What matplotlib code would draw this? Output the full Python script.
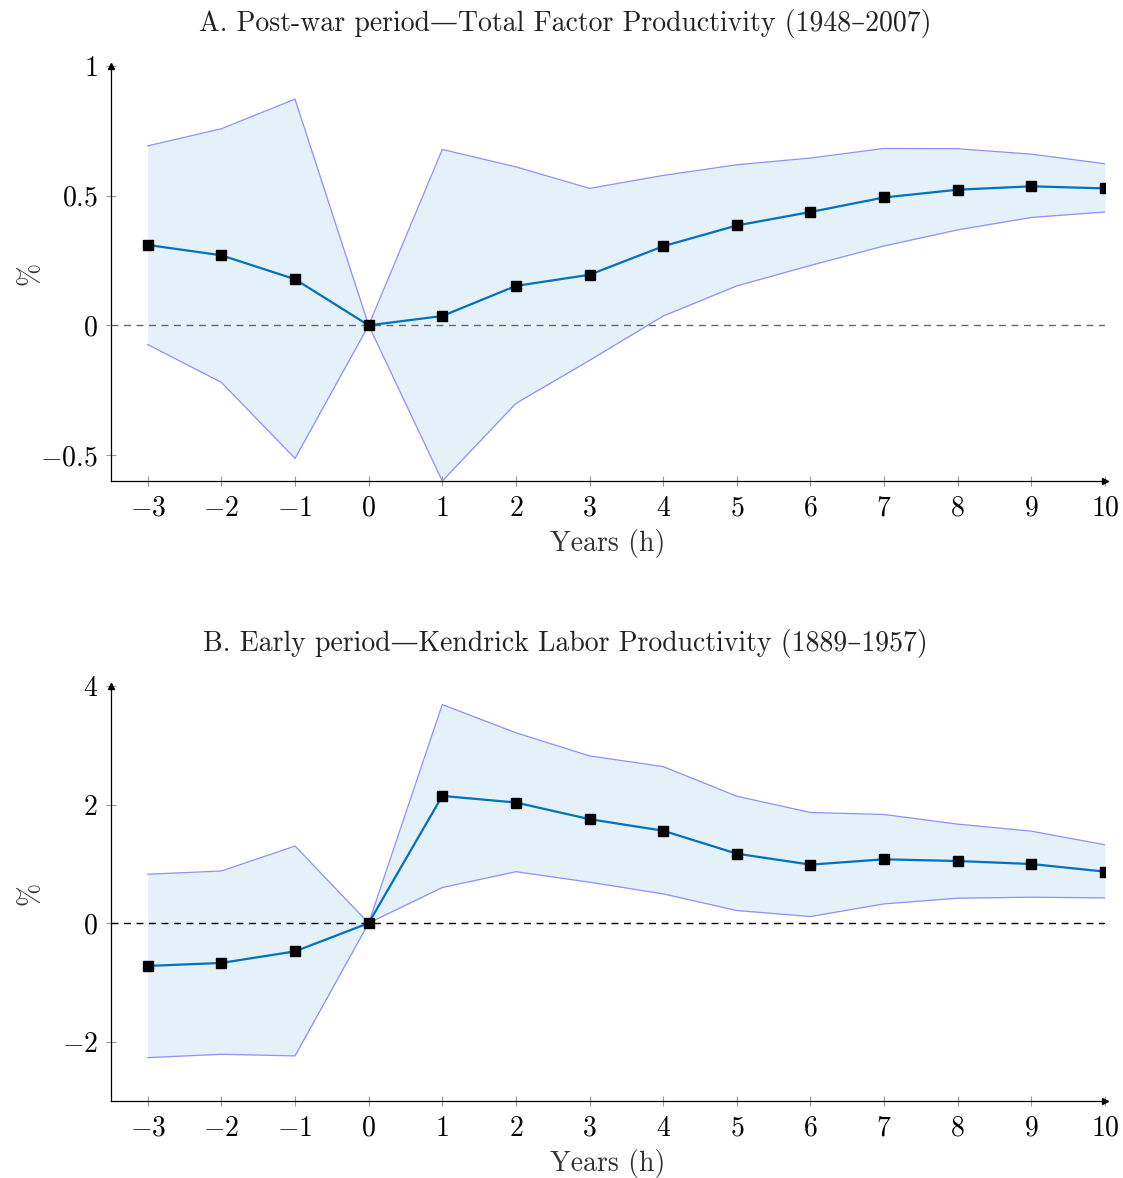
import matplotlib
matplotlib.use("Agg")
import matplotlib.pyplot as plt

plt.rcParams['font.family'] = ['cmr10', 'DejaVu Serif']
plt.rcParams['mathtext.fontset'] = 'cm'
plt.rcParams['axes.unicode_minus'] = False

# horizons
years = [-3, -2, -1, 0, 1, 2, 3, 4, 5, 6, 7, 8, 9, 10]

# Panel A: post-war TFP
tfp_mean = [0.31, 0.27, 0.178, 0.0, 0.036, 0.152, 0.195, 0.305, 0.385, 0.437, 0.493, 0.523, 0.536, 0.528]
tfp_upper = [0.692, 0.758, 0.872, 0.0, 0.678, 0.611, 0.528, 0.578, 0.619, 0.645, 0.682, 0.681, 0.66, 0.623]
tfp_lower = [-0.074, -0.22, -0.513, 0.0, -0.60, -0.301, -0.135, 0.036, 0.152, 0.231, 0.306, 0.368, 0.416, 0.437]

# Panel B: early period Kendrick labor productivity
lp_mean = [-0.723, -0.672, -0.477, 0.0, 2.145, 2.034, 1.753, 1.558, 1.171, 0.986, 1.076, 1.047, 0.997, 0.868]
lp_upper = [0.824, 0.879, 1.30, 0.0, 3.686, 3.21, 2.82, 2.64, 2.14, 1.866, 1.832, 1.669, 1.551, 1.321]
lp_lower = [-2.269, -2.213, -2.24, 0.0, 0.60, 0.867, 0.69, 0.493, 0.212, 0.111, 0.324, 0.42, 0.437, 0.425]

tfp_yticks = [-0.5, 0, 0.5, 1]
lp_yticks = [-2, 0, 2, 4]

titles = ["A. Post-war period\u2014Total Factor Productivity (1948\u20132007)",
          "B. Early period\u2014Kendrick Labor Productivity (1889\u20131957)"]

FS = 20


def tick_label(v):
    return r"$" + f"{v:g}" + r"$"


def draw_panel(ax, mean, upper, lower, yticks, ylim, zero_color):
    ax.fill_between(years, lower, upper, color='#E5F1F8', linewidth=0, zorder=1)
    ax.plot(years, upper, color='#8f8fff', lw=0.9, zorder=2)
    ax.plot(years, lower, color='#8f8fff', lw=0.9, zorder=2)
    ax.axhline(0, color=zero_color, lw=1.0, ls=(0, (5, 4)), zorder=3)
    ax.plot(years, mean, color='#0072BD', lw=1.6, marker='s', ms=6.5,
            mfc='black', mec='black', zorder=4)

    ax.set_xlim(-3.5, 10)
    ax.set_ylim(*ylim)
    ax.set_xticks(years, [tick_label(v) for v in years])
    ax.set_yticks(yticks, [tick_label(v) for v in yticks])
    ax.tick_params(direction='inout', length=7, width=0.8, color='#999999',
                   labelsize=FS, pad=6)
    ax.tick_params(axis='x', pad=7)

    for side in ['top', 'right']:
        ax.spines[side].set_visible(False)
    for side in ['left', 'bottom']:
        ax.spines[side].set_linewidth(0.9)
    ax.plot(0, 1, marker='^', color='black', ms=5, transform=ax.transAxes, clip_on=False)
    ax.plot(1, 0, marker='>', color='black', ms=5, transform=ax.transAxes, clip_on=False)

    ax.set_xlabel("Years (h)", fontsize=FS, color='#333333')
    ax.set_ylabel("%", fontsize=FS, color='#333333')
    ax.xaxis.set_label_coords(0.5, -0.116)
    ax.yaxis.set_label_coords(-0.0675, 0.5)


fig = plt.figure(figsize=(11.23, 11.78), dpi=100)
ax1 = fig.add_axes([0.0988, 0.5917, 0.8851, 0.3523])
ax2 = fig.add_axes([0.0988, 0.0654, 0.8851, 0.3523])

draw_panel(ax1, tfp_mean, tfp_upper, tfp_lower, tfp_yticks, (-0.6, 1), '#666666')
draw_panel(ax2, lp_mean, lp_upper, lp_lower, lp_yticks, (-3, 4), 'black')

fig.text(565 / 1123, 1 - 23 / 1178, titles[0], ha='center', va='center', fontsize=FS, color='#222222')
fig.text(565 / 1123, 1 - 643 / 1178, titles[1], ha='center', va='center', fontsize=FS, color='#222222')

fig.savefig("out.png", dpi=100)
